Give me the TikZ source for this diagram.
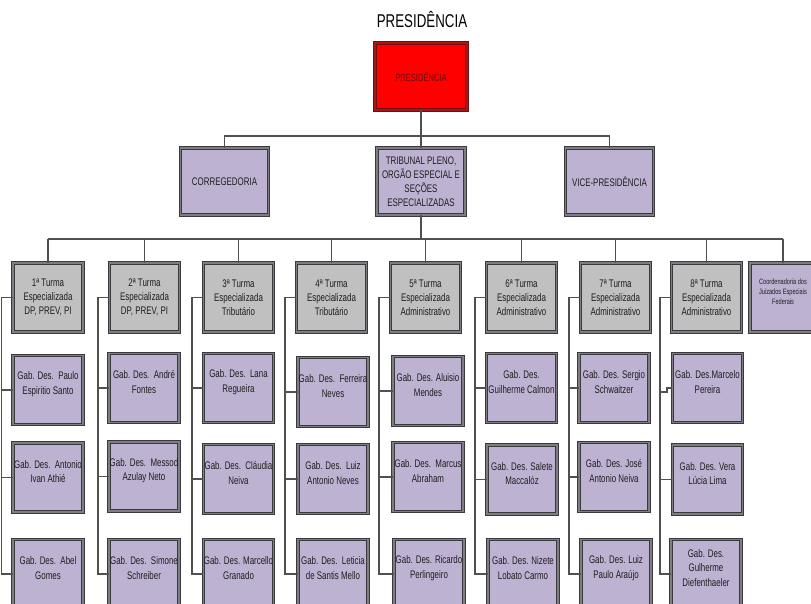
\documentclass[tikz,border=0pt]{standalone}
\usepackage{fontspec}
\usetikzlibrary{calc}
\setmainfont{Liberation Sans}[FakeStretch=0.72]
\definecolor{lav}{RGB}{190,178,211}
\definecolor{tgray}{RGB}{192,192,192}
\definecolor{bdark}{RGB}{58,58,62}
\definecolor{bmid}{RGB}{125,125,130}
\definecolor{lin}{RGB}{80,80,80}
\definecolor{txt}{RGB}{30,30,30}
\definecolor{pred}{RGB}{255,0,0}
\definecolor{pdark}{RGB}{110,16,16}
\definecolor{pmid}{RGB}{170,20,20}
\definecolor{ptext}{RGB}{110,10,10}
\begin{document}
\begin{tikzpicture}[x=1pt,y=-1pt,
  box/.style={draw=bdark, double=bmid, double distance=1.8pt, line width=0.85pt,
    inner sep=0pt, text=txt, align=center, font=\fontsize{11}{14}\selectfont},
  pbox/.style={draw=pdark, double=pmid, double distance=1.6pt, line width=0.85pt,
    fill=pred, inner sep=0pt, minimum width=92pt, minimum height=67pt,
    text=ptext, font=\fontsize{10.5}{12}\selectfont},
  titlenode/.style={inner sep=0pt, text=black, font=\fontsize{18.5}{20}\selectfont},
  rbox/.style={box, fill=lav, minimum width=88pt, minimum height=67pt},
  tbox/.style={box, fill=tgray, minimum width=70pt, minimum height=69pt},
  gtxt/.style={align=center, text=txt, inner sep=0pt, yshift=6pt, font=\fontsize{11}{14.5}\selectfont},
  ctxt/.style={align=center, text=txt, inner sep=0pt, yshift=5.5pt, font=\fontsize{7.8}{10}\selectfont},
  gab/.style={box, fill=lav, minimum width=70pt, minimum height=69pt, label={[gtxt]center:{#1}}},
  cbox/.style={box, fill=lav, minimum width=66pt, minimum height=69pt, label={[ctxt]center:{#1}}},
  conn/.style={draw=lin, line width=1.25pt}
]
\useasboundingbox (0,0) rectangle (811,603);

% title and presidency
\node[titlenode] (ttl) at (422,20) {PRESIDÊNCIA};
\node[pbox] (pres) at (421,76.5) {PRESIDÊNCIA};

% second level
\node[rbox] (corr) at (224.5,181.5) {CORREGEDORIA};
\node[rbox] (trib) at (421,181.5) {TRIBUNAL PLENO,\\ORGÃO ESPECIAL E\\SEÇÕES\\ESPECIALIZADAS};
\node[rbox] (vice) at (609.5,181.5) {VICE-PRESIDÊNCIA};

\coordinate (bus1) at (421,136);
\draw[conn] (pres.south) -- (trib.north);
\draw[conn] (corr.north) |- (bus1) -| (vice.north);

% turmas
\node[tbox] (t1) at (48,297.5) {1ª Turma\\Especializada\\DP, PREV, PI};
\node[tbox] (t2) at (144.5,297.5) {2ª Turma\\Especializada\\DP, PREV, PI};
\node[tbox] (t3) at (238.5,297.5) {3ª Turma\\Especializada\\Tributário};
\node[tbox] (t4) at (331.5,297.5) {4ª Turma\\Especializada\\Tributário};
\node[tbox] (t5) at (425.5,297.5) {5ª Turma\\Especializada\\Administrativo};
\node[tbox] (t6) at (521.5,297.5) {6ª Turma\\Especializada\\Administrativo};
\node[tbox] (t7) at (615.5,297.5) {7ª Turma\\Especializada\\Administrativo};
\node[tbox] (t8) at (706.5,297.5) {8ª Turma\\Especializada\\Administrativo};
\node[cbox={Coordenadoria dos\\Juizados Especiais\\Federais}] (cj) at (783,297.5) {};

\coordinate (bus2) at (421,239);
\draw[conn] (trib.south) -- (bus2);
\draw[conn] (t1.north |- bus2) -- (cj.north |- bus2);
\draw[conn] (cj.north) -- (cj.north |- bus2);

% gabinetes
\node[gab={Gab. Des.\ \ Paulo\\Espiritio Santo}] (g11) at (48,390) {};
\node[gab={Gab. Des.\ \ Antonio\\Ivan Athié}] (g12) at (48,477.5) {};
\node[gab={Gab. Des.\ \ Abel\\Gomes}] (g13) at (48,574) {};

\node[gab={Gab. Des.\ \ André\\Fontes}] (g21) at (144,388) {};
\node[gab={Gab. Des.\ \ Messod\\Azulay Neto}] (g22) at (144,476.5) {};
\node[gab={Gab. Des.\ \ Simone\\Schreiber}] (g23) at (144,574) {};

\node[gab={Gab. Des.\ \ Lana\\Regueira}] (g31) at (238.5,388) {};
\node[gab={Gab. Des.\ \ Cláudia\\Neiva}] (g32) at (238.5,479) {};
\node[gab={Gab. Des. Marcello\\Granado}] (g33) at (238.5,574) {};

\node[gab={Gab. Des.\ \ Ferreira\\Neves}] (g41) at (333,392) {};
\node[gab={Gab. Des.\ \ Luiz\\Antonio Neves}] (g42) at (333,479) {};
\node[gab={Gab. Des.\ \ Leticia\\de Santis Mello}] (g43) at (333,574) {};

\node[gab={Gab. Des. Aluisio\\Mendes}] (g51) at (428,391) {};
\node[gab={Gab. Des.\ \ Marcus\\Abraham}] (g52) at (428,477) {};
\node[gab={Gab. Des. Ricardo\\Perlingeiro}] (g53) at (429,574) {};

\node[gab={Gab. Des.\\Guilherme Calmon}] (g61) at (521.5,388) {};
\node[gab={Gab. Des. Salete\\Maccalóz}] (g62) at (522,479.5) {};
\node[gab={Gab. Des. Nizete\\Lobato Carmo}] (g63) at (523,574) {};

\node[gab={Gab. Des. Sergio\\Schwaitzer}] (g71) at (614,388) {};
\node[gab={Gab. Des. José\\Antonio Neiva}] (g72) at (614,477) {};
\node[gab={Gab. Des. Luiz\\Paulo Araújo}] (g73) at (616,574) {};

\node[gab={Gab. Des.Marcelo\\Pereira}] (g81) at (707.5,388) {};
\node[gab={Gab. Des. Vera\\Lúcia Lima}] (g82) at (707.5,479.5) {};
\node[gab={Gab. Des.\\Gulherme\\Diefenthaeler}] (g83) at (706,574) {};

\foreach \i in {1,...,8}{
  \coordinate (s\i) at ([xshift=-11pt]t\i.west);
  \draw[conn] (t\i.north) -- (t\i.north |- bus2);
  \draw[conn] (t\i.west) -- (s\i) |- (g\i3.west);
  \draw[conn] (s\i |- g\i2.west) -- (g\i2.west);
}
\foreach \i in {1,...,7}{
  \draw[conn] (s\i |- g\i1.west) -- (g\i1.west);
}
% small jog on the 8th column's first stub
\draw[conn] ($(s8 |- g81.west)+(0,4)$) -- ++(7,0) |- (g81.west);
\end{tikzpicture}
\end{document}
